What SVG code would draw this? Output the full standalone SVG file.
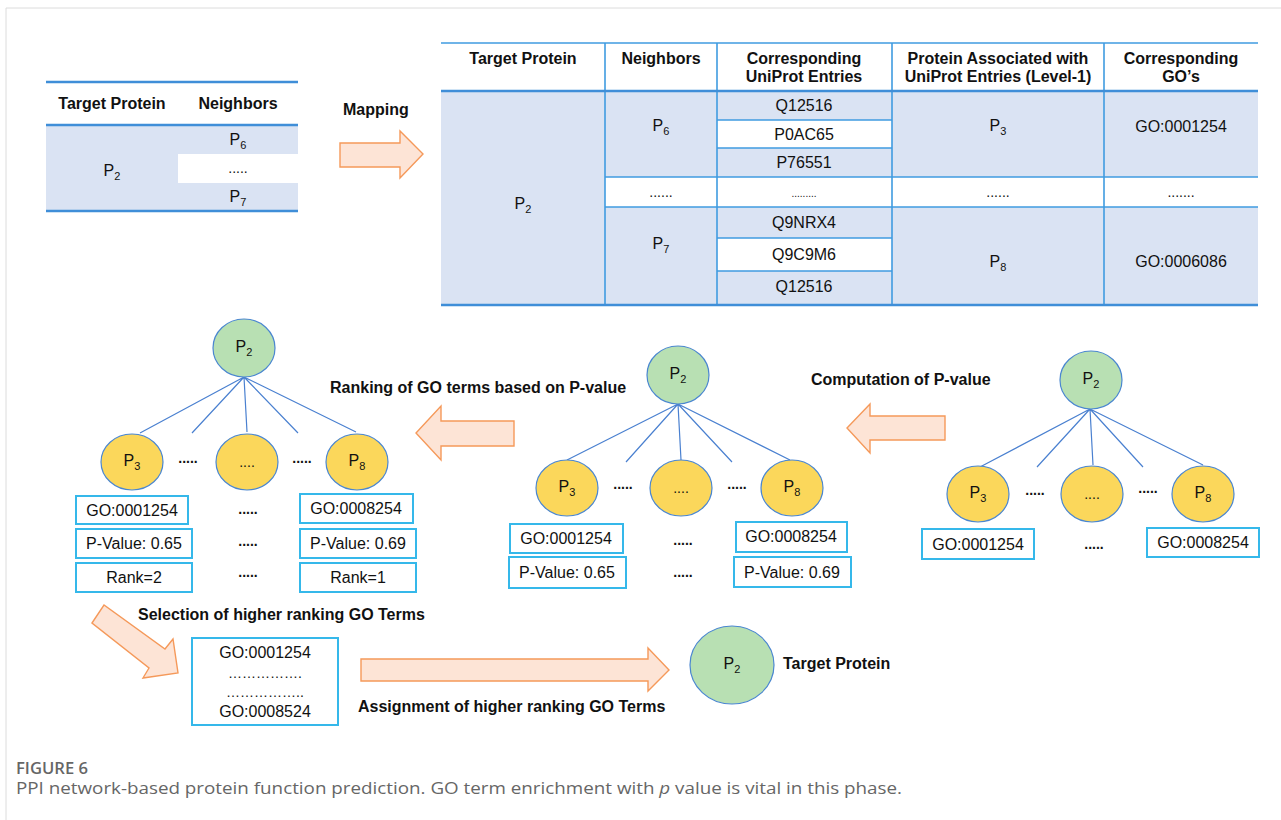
<svg xmlns="http://www.w3.org/2000/svg" width="1281" height="820" viewBox="0 0 1281 820">
  <style>
    text { font-family: "Liberation Sans", Arial, sans-serif; fill: #111; }
    .hd { font-weight: bold; font-size: 16px; text-anchor: middle; }
    .lbl { font-weight: bold; font-size: 16px; }
    .cell { font-size: 16px; text-anchor: middle; }
    .sub { font-size: 11px; }
    .dots { font-size: 14px; text-anchor: middle; }
    .fillb { fill: #dae3f3; }
    .grid { stroke: #3f9be0; stroke-width: 1.6; fill: none; }
    .rule { stroke: #3f8ed8; stroke-width: 2.6; }
    .big { fill: #fde4d6; stroke: #f5995a; stroke-width: 1.4; }
    .root { fill: #b8e0b3; stroke: #4a86d0; stroke-width: 1.2; }
    .kid { fill: #fbd75b; stroke: #4a86d0; stroke-width: 1.2; }
    .edge { stroke: #4a80d0; stroke-width: 1.2; fill: none; }
    .box { fill: #fff; stroke: #35b8ea; stroke-width: 2; }
    .cap { font-family: "Open Sans", "Noto Sans", sans-serif; fill: #666; }
  </style>

  <!-- page frame -->
  <g id="frame">
    <line x1="6" y1="8" x2="1281" y2="8" stroke="#dcdcdc" stroke-width="1"/>
    <line x1="6" y1="8" x2="6" y2="820" stroke="#dcdcdc" stroke-width="1"/>
  </g>

  <!-- small neighbor table -->
  <g id="table-neighbors">
    <rect class="fillb" x="46" y="125" width="252" height="86"/>
    <rect x="178" y="154" width="120" height="29" fill="#fff"/>
    <line class="rule" x1="46" y1="82" x2="298" y2="82"/>
    <line class="rule" x1="46" y1="125" x2="298" y2="125"/>
    <line class="rule" x1="46" y1="211" x2="298" y2="211"/>
    <text class="hd" x="112" y="109">Target Protein</text>
    <text class="hd" x="238" y="109">Neighbors</text>
    <text class="cell" x="238" y="145">P<tspan class="sub" dy="4">6</tspan></text>
    <text class="cell" x="112" y="176">P<tspan class="sub" dy="4">2</tspan></text>
    <text class="dots" x="238" y="173">.....</text>
    <text class="cell" x="238" y="202">P<tspan class="sub" dy="4">7</tspan></text>
  </g>

  <!-- mapping step -->
  <g id="step-mapping">
    <polygon class="big" points="340,143 400,143 400,131 423,154 400,178 400,167 340,167"/>
    <text class="lbl" x="343" y="115">Mapping</text>
  </g>

  <!-- mapping table -->
  <g id="table-mapping">
    <rect class="fillb" x="441" y="91" width="817" height="214"/>
    <rect x="605" y="177" width="653" height="30" fill="#fff"/>
    <rect x="717" y="120" width="175" height="28" fill="#fff"/>
    <rect x="717" y="238" width="175" height="33" fill="#fff"/>
    <!-- vertical rules -->
    <line class="grid" x1="605" y1="43" x2="605" y2="305"/>
    <line class="grid" x1="717" y1="43" x2="717" y2="305"/>
    <line class="grid" x1="892" y1="43" x2="892" y2="305"/>
    <line class="grid" x1="1104" y1="43" x2="1104" y2="305"/>
    <!-- row rules -->
    <line class="grid" x1="605" y1="177" x2="1258" y2="177"/>
    <line class="grid" x1="605" y1="207" x2="1258" y2="207"/>
    <line class="grid" x1="717" y1="120" x2="892" y2="120"/>
    <line class="grid" x1="717" y1="148" x2="892" y2="148"/>
    <line class="grid" x1="717" y1="238" x2="892" y2="238"/>
    <line class="grid" x1="717" y1="271" x2="892" y2="271"/>
    <line class="grid" x1="441" y1="43" x2="1258" y2="43"/>
    <line class="rule" x1="441" y1="91" x2="1258" y2="91" stroke="#3f9be0"/>
    <line class="rule" x1="441" y1="305" x2="1258" y2="305" stroke="#3f9be0"/>
    <!-- header -->
    <text class="hd" x="523" y="64">Target Protein</text>
    <text class="hd" x="661" y="64">Neighbors</text>
    <text class="hd" x="804" y="64">Corresponding</text>
    <text class="hd" x="804" y="82">UniProt Entries</text>
    <text class="hd" x="998" y="64">Protein Associated with</text>
    <text class="hd" x="998" y="82">UniProt Entries (Level-1)</text>
    <text class="hd" x="1181" y="64">Corresponding</text>
    <text class="hd" x="1181" y="82">GO’s</text>
    <!-- body -->
    <text class="cell" x="523" y="209">P<tspan class="sub" dy="4">2</tspan></text>
    <text class="cell" x="661" y="131">P<tspan class="sub" dy="4">6</tspan></text>
    <text class="dots" x="661" y="197">......</text>
    <text class="cell" x="661" y="249">P<tspan class="sub" dy="4">7</tspan></text>
    <text class="cell" x="804" y="111">Q12516</text>
    <text class="cell" x="804" y="140">P0AC65</text>
    <text class="cell" x="804" y="168">P76551</text>
    <text x="804" y="197" font-size="10" text-anchor="middle">.........</text>
    <text class="cell" x="804" y="228">Q9NRX4</text>
    <text class="cell" x="804" y="260">Q9C9M6</text>
    <text class="cell" x="804" y="292">Q12516</text>
    <text class="cell" x="998" y="131">P<tspan class="sub" dy="4">3</tspan></text>
    <text class="dots" x="998" y="197">......</text>
    <text class="cell" x="998" y="267">P<tspan class="sub" dy="4">8</tspan></text>
    <text class="cell" x="1181" y="132">GO:0001254</text>
    <text class="dots" x="1181" y="197">.......</text>
    <text class="cell" x="1181" y="267">GO:0006086</text>
  </g>

  <!-- connectors of the three networks -->
  <g id="connectors">
    <path class="edge" d="M244,377 L140,433 M244,377 L192,433 M244,377 L247,432 M244,377 L298,433 M244,377 L356,432"/>
    <path class="edge" d="M678,404 L567,460 M678,404 L626,462 M678,404 L681,460 M678,404 L732,462 M678,404 L790,460"/>
    <path class="edge" d="M1090,409 L980,467 M1090,409 L1037,467 M1090,409 L1093,465 M1090,409 L1143,467 M1090,409 L1203,465"/>
  </g>

  <!-- network: ranked GO terms -->
  <g id="net-ranked">
    <ellipse class="root" cx="244" cy="348" rx="31" ry="29"/>
    <text class="cell" x="244" y="352">P<tspan class="sub" dy="4">2</tspan></text>
    <ellipse class="kid" cx="132" cy="462" rx="31" ry="28"/>
    <text class="cell" x="132" y="466">P<tspan class="sub" dy="4">3</tspan></text>
    <ellipse class="kid" cx="247" cy="462" rx="31" ry="28"/>
    <text class="dots" x="247" y="467">....</text>
    <ellipse class="kid" cx="357" cy="462" rx="31" ry="28"/>
    <text class="cell" x="357" y="466">P<tspan class="sub" dy="4">8</tspan></text>
    <text class="dots" x="188" y="463" font-weight="bold">.....</text>
    <text class="dots" x="302" y="463" font-weight="bold">.....</text>
    <rect class="box" x="76" y="496" width="112" height="28"/>
    <text class="cell" x="132" y="516">GO:0001254</text>
    <rect class="box" x="76" y="529" width="116" height="29"/>
    <text class="cell" x="134" y="549">P-Value: 0.65</text>
    <rect class="box" x="76" y="563" width="116" height="29"/>
    <text class="cell" x="134" y="583">Rank=2</text>
    <rect class="box" x="300" y="494" width="113" height="29"/>
    <text class="cell" x="356" y="514">GO:0008254</text>
    <rect class="box" x="300" y="529" width="116" height="29"/>
    <text class="cell" x="358" y="549">P-Value: 0.69</text>
    <rect class="box" x="300" y="563" width="116" height="29"/>
    <text class="cell" x="358" y="583">Rank=1</text>
    <text class="dots" x="248" y="514" font-weight="bold">.....</text>
    <text class="dots" x="248" y="546" font-weight="bold">.....</text>
    <text class="dots" x="248" y="577" font-weight="bold">.....</text>
  </g>

  <!-- ranking step -->
  <g id="step-ranking">
    <polygon class="big" points="514,421 441,421 441,406 416,433 441,460 441,446 514,446"/>
    <text class="lbl" x="330" y="393">Ranking of GO terms based on P-value</text>
  </g>

  <!-- network: P-values -->
  <g id="net-pvalue">
    <ellipse class="root" cx="678" cy="375" rx="31" ry="29"/>
    <text class="cell" x="678" y="379">P<tspan class="sub" dy="4">2</tspan></text>
    <ellipse class="kid" cx="567" cy="488" rx="31" ry="28"/>
    <text class="cell" x="567" y="492">P<tspan class="sub" dy="4">3</tspan></text>
    <ellipse class="kid" cx="681" cy="488" rx="31" ry="28"/>
    <text class="dots" x="681" y="493">....</text>
    <ellipse class="kid" cx="792" cy="488" rx="31" ry="28"/>
    <text class="cell" x="792" y="492">P<tspan class="sub" dy="4">8</tspan></text>
    <text class="dots" x="623" y="489" font-weight="bold">.....</text>
    <text class="dots" x="737" y="489" font-weight="bold">.....</text>
    <rect class="box" x="510" y="524" width="113" height="29"/>
    <text class="cell" x="566" y="544">GO:0001254</text>
    <rect class="box" x="509" y="557" width="117" height="31"/>
    <text class="cell" x="567" y="578">P-Value: 0.65</text>
    <rect class="box" x="736" y="522" width="111" height="30"/>
    <text class="cell" x="791" y="542">GO:0008254</text>
    <rect class="box" x="734" y="557" width="117" height="30"/>
    <text class="cell" x="792" y="578">P-Value: 0.69</text>
    <text class="dots" x="683" y="545" font-weight="bold">.....</text>
    <text class="dots" x="683" y="577" font-weight="bold">.....</text>
  </g>

  <!-- computation step -->
  <g id="step-computation">
    <polygon class="big" points="945,416 870,416 870,404 847,428 870,453 870,440 945,440"/>
    <text class="lbl" x="811" y="385">Computation of P-value</text>
  </g>

  <!-- network: GO terms -->
  <g id="net-go">
    <ellipse class="root" cx="1091" cy="380" rx="31" ry="29"/>
    <text class="cell" x="1091" y="384">P<tspan class="sub" dy="4">2</tspan></text>
    <ellipse class="kid" cx="978" cy="494" rx="31" ry="28"/>
    <text class="cell" x="978" y="498">P<tspan class="sub" dy="4">3</tspan></text>
    <ellipse class="kid" cx="1092" cy="494" rx="31" ry="28"/>
    <text class="dots" x="1092" y="499">....</text>
    <ellipse class="kid" cx="1203" cy="494" rx="31" ry="28"/>
    <text class="cell" x="1203" y="498">P<tspan class="sub" dy="4">8</tspan></text>
    <text class="dots" x="1035" y="495" font-weight="bold">.....</text>
    <text class="dots" x="1148" y="493" font-weight="bold">.....</text>
    <rect class="box" x="922" y="529" width="112" height="30"/>
    <text class="cell" x="978" y="550">GO:0001254</text>
    <rect class="box" x="1147" y="528" width="112" height="29"/>
    <text class="cell" x="1203" y="548">GO:0008254</text>
    <text class="dots" x="1094" y="549" font-weight="bold">.....</text>
  </g>

  <!-- selection step -->
  <g id="step-selection">
    <polygon class="big" points="92,623 104,605 165,649 173,639 178,673 143,678 149,668"/>
    <text class="lbl" x="138" y="620">Selection of higher ranking GO Terms</text>
  </g>

  <!-- selected GO terms -->
  <g id="selected-terms">
    <rect class="box" x="192" y="638" width="146" height="87"/>
    <text class="cell" x="265" y="658">GO:0001254</text>
    <text x="265" y="678" font-size="14" text-anchor="middle">…………….</text>
    <text x="265" y="697" font-size="14" text-anchor="middle">……………..</text>
    <text class="cell" x="265" y="717">GO:0008524</text>
  </g>

  <!-- assignment step -->
  <g id="step-assignment">
    <polygon class="big" points="361,659 648,659 648,648 669,670 648,691 648,681 361,681"/>
    <text class="lbl" x="358" y="712">Assignment of higher ranking GO Terms</text>
  </g>

  <!-- annotated target protein -->
  <g id="target-protein">
    <ellipse class="root" cx="732" cy="665" rx="42" ry="39"/>
    <text class="cell" x="732" y="669">P<tspan class="sub" dy="4">2</tspan></text>
    <text class="lbl" x="783" y="669">Target Protein</text>
  </g>

  <!-- caption -->
  <g id="caption">
    <text class="cap" x="16" y="774" font-size="16" font-weight="600" fill="#666" textLength="72" lengthAdjust="spacingAndGlyphs">FIGURE 6</text>
    <text class="cap" x="16" y="794" font-size="16" textLength="886" lengthAdjust="spacingAndGlyphs">PPI network-based protein function prediction. GO term enrichment with <tspan font-style="italic">p</tspan> value is vital in this phase.</text>
  </g>
</svg>
